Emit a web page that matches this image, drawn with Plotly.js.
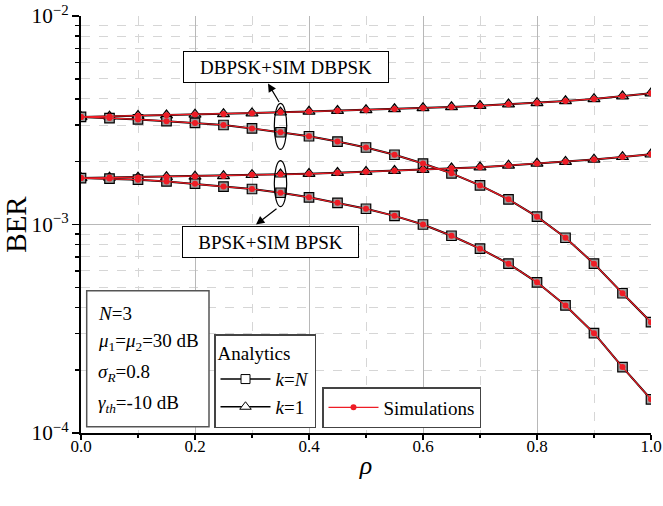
<!DOCTYPE html>
<html><head><meta charset="utf-8">
<script src="https://cdn.plot.ly/plotly-3.0.1.min.js"></script>
<style>html,body{margin:0;padding:0;background:#fff}#g{width:663px;height:506px}</style>
</head><body><div id="g"></div>
<script>
var rho = [0,0.05,0.1,0.15,0.2,0.25,0.3,0.35,0.4,0.45,0.5,0.55,0.6,0.65,0.7,0.75,0.8,0.85,0.9,0.95,1.0];
var dbpskK1 = [3.28e-3,3.30e-3,3.32e-3,3.34e-3,3.37e-3,3.39e-3,3.42e-3,3.45e-3,3.48e-3,3.51e-3,3.54e-3,3.58e-3,3.62e-3,3.66e-3,3.71e-3,3.77e-3,3.83e-3,3.91e-3,4.00e-3,4.12e-3,4.26e-3];
var dbpskKN = [3.28e-3,3.24e-3,3.19e-3,3.13e-3,3.07e-3,3.00e-3,2.89e-3,2.77e-3,2.65e-3,2.50e-3,2.34e-3,2.16e-3,1.96e-3,1.76e-3,1.54e-3,1.32e-3,1.09e-3,8.64e-4,6.49e-4,4.68e-4,3.40e-4];
var bpskK1 = [1.67e-3,1.68e-3,1.68e-3,1.69e-3,1.70e-3,1.71e-3,1.73e-3,1.74e-3,1.75e-3,1.77e-3,1.79e-3,1.81e-3,1.83e-3,1.86e-3,1.88e-3,1.92e-3,1.96e-3,2.00e-3,2.05e-3,2.11e-3,2.17e-3];
var bpskKN = [1.67e-3,1.66e-3,1.64e-3,1.61e-3,1.57e-3,1.52e-3,1.48e-3,1.42e-3,1.35e-3,1.27e-3,1.19e-3,1.10e-3,1.00e-3,8.83e-4,7.66e-4,6.49e-4,5.28e-4,4.09e-4,3.01e-4,2.07e-4,1.45e-4];
var simDbpskK1 = dbpskK1.slice();
var simDbpskKN = dbpskKN.slice();
var simBpskK1 = bpskK1.slice();
var simBpskKN = bpskKN.slice();

var FONT = 'Liberation Serif';
var traces = [];
function analytic(y, sym){
  traces.push({x:rho, y:y, mode:'lines+markers', showlegend:false,
    line:{color:'#000', width:2},
    marker:{symbol:sym, size: sym==='square'?9.5:10.5, color:'#9c9c9c', line:{color:'#000', width:1.2}}});
}
analytic(dbpskK1,'triangle-up'); analytic(dbpskKN,'square');
analytic(bpskK1,'triangle-up'); analytic(bpskKN,'square');
[simDbpskK1, simDbpskKN, simBpskK1, simBpskKN].forEach(function(y){
  traces.push({x:rho, y:y, mode:'lines+markers', showlegend:false,
    line:{color:'#ee1c25', width:1.2}, marker:{symbol:'circle', size:6, color:'#ee1c25'}});
});
// legend entries
traces.push({x:[null], y:[null], mode:'lines+markers', name:'<i>k</i>=<i>N</i>', legend:'legend',
  line:{color:'#000', width:1.5}, marker:{symbol:'square', size:9, color:'#fff', line:{color:'#000', width:1}}});
traces.push({x:[null], y:[null], mode:'lines+markers', name:'<i>k</i>=1', legend:'legend',
  line:{color:'#000', width:1.5}, marker:{symbol:'triangle-up', size:10, color:'#fff', line:{color:'#000', width:1}}});
traces.push({x:[null], y:[null], mode:'lines+markers', name:'Simulations', legend:'legend2',
  line:{color:'#ee1c25', width:1.2}, marker:{symbol:'circle', size:6, color:'#ee1c25'}});

function px(x){return (x-81)/570;}
function py(y){return (433-y)/417;}

var TF = {family:FONT, size:17, color:'#000'};
var axisCommonX = {range:[0,1], dtick:0.2, tick0:0, tickformat:'.1f', showline:true, linewidth:2, linecolor:'#000',
  showgrid:true, gridcolor:'#b8b8b8', gridwidth:1, zeroline:false, ticklen:5, tickwidth:1.5, tickcolor:'#000', tickfont:TF,
  minor:{dtick:0.1, ticklen:3, tickwidth:1.5, tickcolor:'#000', showgrid:true, gridcolor:'#d6d6d6', griddash:'dash', gridwidth:1}};
var axisCommonY = {type:'log', range:[-4,-2], dtick:1, exponentformat:'power', showline:true, linewidth:2, linecolor:'#000',
  showgrid:true, gridcolor:'#b8b8b8', gridwidth:1, zeroline:false, ticklen:7, tickwidth:1.5, tickcolor:'#000', tickfont:TF,
  minor:{dtick:'D1', ticklen:4, tickwidth:1.5, tickcolor:'#000', showgrid:true, gridcolor:'#d6d6d6', griddash:'dash', gridwidth:1}};

var layout = {
  width:663, height:506, margin:{l:81, r:12, t:16, b:73},
  paper_bgcolor:'#fff', plot_bgcolor:'#fff',
  font:{family:FONT, size:17, color:'#000'},
  xaxis: Object.assign({}, axisCommonX, {ticks:'outside', ticklabelstandoff:-8, title:{text:'<i>ρ</i>', font:{family:FONT, size:26}, standoff:0}}),
  yaxis: Object.assign({}, axisCommonY, {ticks:'outside', title:{text:'BER', font:{family:FONT, size:29}, standoff:6}}),
  xaxis2: Object.assign({}, axisCommonX, {overlaying:'x', side:'top', anchor:'y', ticks:'inside', showticklabels:false, showgrid:false, minor:{dtick:0.1, ticks:'inside', ticklen:3, tickwidth:1.5, tickcolor:'#000', showgrid:false}}),
  yaxis2: Object.assign({}, axisCommonY, {overlaying:'y', side:'right', anchor:'x', ticks:'inside', showticklabels:false, showgrid:false, minor:{dtick:'D1', ticks:'inside', ticklen:4, tickwidth:1.5, tickcolor:'#000', showgrid:false}}),
  legend:{x:px(214), y:py(428), xanchor:'left', yanchor:'bottom', bgcolor:'#fff', bordercolor:'#444', borderwidth:1.5,
    font:{family:FONT, size:19}, title:{text:'Analytics', font:{family:FONT, size:19}}, itemwidth:50, tracegroupgap:0},
  legend2:{x:px(322), y:py(428), xanchor:'left', yanchor:'bottom', bgcolor:'#fff', bordercolor:'#444', borderwidth:1.5,
    font:{family:FONT, size:19}, itemwidth:50},
  shapes:[
    {type:'rect', xref:'paper', yref:'paper', x0:px(86.7), x1:px(209), y0:py(426.7), y1:py(290.7), fillcolor:'#fff', line:{color:'#555', width:1.5}, layer:'above'},
    {type:'circle', xref:'paper', yref:'paper', x0:px(274.3), x1:px(286.7), y0:py(149.3), y1:py(103.3), line:{color:'#000', width:1.2}, layer:'above'},
    {type:'circle', xref:'paper', yref:'paper', x0:px(274.3), x1:px(286.7), y0:py(206.7), y1:py(160.7), line:{color:'#000', width:1.2}, layer:'above'}
  ],
  annotations:[
    {xref:'paper', yref:'paper', x:px(286.3), y:py(66.9), xanchor:'center', yanchor:'middle', text:'DBPSK+SIM DBPSK', showarrow:false, font:{family:FONT, size:19},
      bgcolor:'#fff', bordercolor:'#000', borderwidth:1, borderpad:0, width:204, height:30},
    {xref:'paper', yref:'paper', x:px(270), y:py(241.7), xanchor:'center', yanchor:'middle', text:'BPSK+SIM BPSK', showarrow:false, font:{family:FONT, size:19},
      bgcolor:'#fff', bordercolor:'#000', borderwidth:1, borderpad:0, width:175, height:30},
    {xref:'paper', yref:'paper', x:px(268), y:py(83.5), text:'', showarrow:true, ax:12, ay:20, arrowhead:2, arrowsize:1.4, arrowwidth:1.2, arrowcolor:'#000', standoff:0, startstandoff:0},
    {xref:'paper', yref:'paper', x:px(256), y:py(224.5), text:'', showarrow:true, ax:22, ay:-17, arrowhead:2, arrowsize:1.4, arrowwidth:1.2, arrowcolor:'#000', standoff:0, startstandoff:0},
    {xref:'paper', yref:'paper', x:px(96), y:py(313), xanchor:'left', yanchor:'middle', showarrow:false, font:{family:FONT, size:19}, text:'<i>N</i>=3'},
    {xref:'paper', yref:'paper', x:px(96), y:py(342), xanchor:'left', yanchor:'middle', showarrow:false, font:{family:FONT, size:19}, text:'<i>μ</i><sub>1</sub>=<i>μ</i><sub>2</sub>=30 dB'},
    {xref:'paper', yref:'paper', x:px(96), y:py(373), xanchor:'left', yanchor:'middle', showarrow:false, font:{family:FONT, size:19}, text:'<i>σ</i><sub><i>R</i></sub>=0.8'},
    {xref:'paper', yref:'paper', x:px(96), y:py(404), xanchor:'left', yanchor:'middle', showarrow:false, font:{family:FONT, size:19}, text:'<i>γ</i><sub><i>th</i></sub>=-10 dB'}
  ]
};
Plotly.newPlot('g', traces, layout, {displayModeBar:false, staticPlot:true});
</script></body></html>
